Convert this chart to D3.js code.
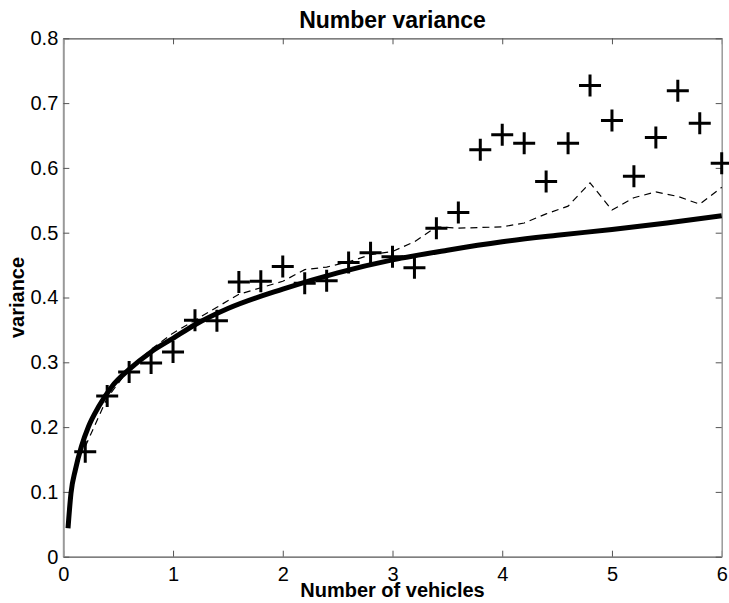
<!DOCTYPE html>
<html>
<head>
<meta charset="utf-8">
<script src="https://cdn.jsdelivr.net/npm/d3@7/dist/d3.min.js"></script>
<style>
  body { margin: 0; background: #fff; }
  text { font-family: "Liberation Sans", Arial, Helvetica, sans-serif; fill: #000; }
</style>
</head>
<body>
<script>
// measured points (crosses)
var xPts = [0.2, 0.4, 0.6, 0.8, 1.0, 1.2, 1.4, 1.6, 1.8, 2.0,
            2.2, 2.4, 2.6, 2.8, 3.0, 3.2, 3.4, 3.6, 3.8, 4.0,
            4.2, 4.4, 4.6, 4.8, 5.0, 5.2, 5.4, 5.6, 5.8, 6.0];
var yPts = [0.162, 0.248, 0.285, 0.299, 0.316, 0.365, 0.364, 0.424, 0.425, 0.448,
            0.422, 0.426, 0.454, 0.469, 0.463, 0.446, 0.507, 0.531, 0.628, 0.651,
            0.638, 0.579, 0.638, 0.727, 0.673, 0.587, 0.647, 0.719, 0.669, 0.607];

// dashed line (same x as crosses)
var yDash = [0.17, 0.245, 0.29, 0.32, 0.345, 0.365, 0.385, 0.405, 0.415, 0.425,
             0.443, 0.447, 0.455, 0.466, 0.471, 0.486, 0.509, 0.507, 0.508, 0.509,
             0.515, 0.529, 0.541, 0.577, 0.535, 0.554, 0.563, 0.556, 0.544, 0.570];

// thick solid curve
var xCurve = [0.043, 0.07, 0.11, 0.165, 0.23, 0.32, 0.44, 0.6, 0.8, 1.0, 1.2, 1.5,
              2.0, 2.5, 3.0, 3.5, 4.0, 4.5, 5.0, 5.5, 6.0];
var yCurve = [0.044, 0.098, 0.134, 0.170, 0.201, 0.231, 0.262, 0.289, 0.316, 0.337, 0.358, 0.383,
              0.413, 0.438, 0.458, 0.473, 0.486, 0.496, 0.505, 0.515, 0.526];

var xTicks = [0, 1, 2, 3, 4, 5, 6];
var yTicks = [0, 0.1, 0.2, 0.3, 0.4, 0.5, 0.6, 0.7, 0.8];

var width = 729, height = 603;
var plotLeft = 63.3, plotRight = 721.7, plotTop = 38.3, plotBottom = 556.7;

var svg = d3.select("body").append("svg")
    .attr("width", width)
    .attr("height", height);

var x = d3.scaleLinear().domain([0, 6]).range([plotLeft, plotRight]);
var y = d3.scaleLinear().domain([0, 0.8]).range([plotBottom, plotTop]);

// axes with inward ticks on all four sides
var axisColor = "#555";
var bottomAxis = svg.append("g")
    .attr("transform", "translate(0," + plotBottom + ")")
    .call(d3.axisBottom(x).tickValues(xTicks).tickSizeInner(-6).tickSizeOuter(0).tickPadding(10)
        .tickFormat(d3.format("d")));
var topAxis = svg.append("g")
    .attr("transform", "translate(0," + plotTop + ")")
    .call(d3.axisTop(x).tickValues(xTicks).tickSizeInner(-6).tickSizeOuter(0).tickFormat(""));
var leftAxis = svg.append("g")
    .attr("transform", "translate(" + plotLeft + ",0)")
    .call(d3.axisLeft(y).tickValues(yTicks).tickSizeInner(-6).tickSizeOuter(0).tickPadding(5)
        .tickFormat(function(d){ return d === 0 ? "0" : d3.format(".1f")(d); }));
var rightAxis = svg.append("g")
    .attr("transform", "translate(" + plotRight + ",0)")
    .call(d3.axisRight(y).tickValues(yTicks).tickSizeInner(-6).tickSizeOuter(0).tickFormat(""));

svg.selectAll(".domain").attr("stroke", axisColor).attr("stroke-width", 1.3);
svg.selectAll(".tick line").attr("stroke", axisColor).attr("stroke-width", 1);
leftAxis.select(".domain").attr("stroke", "#999").attr("stroke-width", 2);
rightAxis.select(".domain").attr("stroke", "#999").attr("stroke-width", 1.5);
svg.selectAll(".tick text").attr("font-size", 20)
    .attr("font-family", "'Liberation Sans', Arial, sans-serif").attr("fill", "#000");

// thick model curve
var line = d3.line()
    .x(function(d){ return x(d[0]); })
    .y(function(d){ return y(d[1]); })
    .curve(d3.curveMonotoneX);

svg.append("path")
    .datum(d3.zip(xCurve, yCurve))
    .attr("fill", "none")
    .attr("stroke", "#000")
    .attr("stroke-width", 5)
    .attr("d", line);

// dashed line
svg.append("path")
    .datum(d3.zip(xPts, yDash))
    .attr("fill", "none")
    .attr("stroke", "#000")
    .attr("stroke-width", 1.2)
    .attr("stroke-dasharray", "7,5")
    .attr("d", d3.line().x(function(d){ return x(d[0]); }).y(function(d){ return y(d[1]); }));

// crosses
var s = 11;
svg.selectAll(".cross")
    .data(d3.zip(xPts, yPts))
    .enter()
    .append("path")
    .attr("class", "cross")
    .attr("fill", "none")
    .attr("stroke", "#000")
    .attr("stroke-width", 3)
    .attr("d", function(d){
        var cx = x(d[0]), cy = y(d[1]);
        return "M" + (cx - s) + "," + cy + "H" + (cx + s) + "M" + cx + "," + (cy - s) + "V" + (cy + s);
    });

// title and labels
svg.append("text")
    .attr("x", (plotLeft + plotRight) / 2)
    .attr("y", 28.3)
    .attr("text-anchor", "middle")
    .attr("font-size", 23)
    .attr("font-weight", "bold")
    .text("Number variance");

svg.append("text")
    .attr("x", (plotLeft + plotRight) / 2)
    .attr("y", 597)
    .attr("text-anchor", "middle")
    .attr("font-size", 20)
    .attr("font-weight", "bold")
    .text("Number of vehicles");

svg.append("text")
    .attr("transform", "translate(23.5," + ((plotTop + plotBottom) / 2) + ") rotate(-90)")
    .attr("text-anchor", "middle")
    .attr("font-size", 20)
    .attr("font-weight", "bold")
    .text("variance");
</script>
</body>
</html>
